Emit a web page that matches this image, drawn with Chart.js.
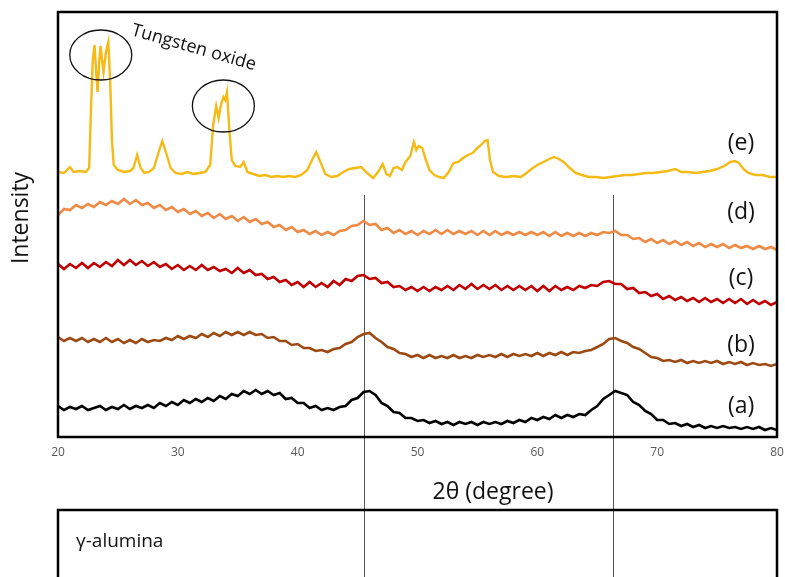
<!DOCTYPE html>
<html><head><meta charset="utf-8">
<script src="https://cdn.jsdelivr.net/npm/chart.js@4.4.0/dist/chart.umd.min.js"></script>
<style>html,body{margin:0;padding:0;background:#fff}#wrap{position:relative;width:785px;height:577px}</style>
</head><body><div id="wrap"><canvas id="c" width="785" height="577"></canvas></div>
<script>
// 2θ grid (degrees) shared by samples (a)-(d)
const theta = [];
for (let i = 0; i <= 120; i++) theta.push(20 + i * 0.5);
const xTicks = [20, 30, 40, 50, 60, 70, 80];
const labels = ['(a)', '(b)', '(c)', '(d)', '(e)'];
const labelLevels = [31, 92, 159, 225, 294];
const aluminaPeaks = [45.55, 66.35];

// (a) γ-alumina
const seriesA = [31,27,30,28,31,27,29,31,27,30,28,32,28,31,29,32,29,34,31,35,32,37,34,38,35,39,36,41,38,43,41,46,43,47,43,46,42,44,38,39,34,34,29,31,27,29,27,30,31,37,39,45,46,42,34,31,25,24,19,19,16,17,14,16,13,15,12,15,13,15,12,15,13,15,13,16,14,17,15,19,17,20,18,22,19,22,20,23,22,27,31,38,42,46,44,42,35,32,26,23,17,17,13,14,11,13,10,12,9,11,9,11,9,10,8,10,8,10,7,9,7];
// (b)
const seriesB = [100,96,99,96,99,95,98,95,99,95,98,94,97,94,98,95,97,96,99,97,101,98,101,99,103,100,104,101,105,102,105,102,105,102,103,99,100,96,96,92,93,89,89,86,87,85,88,89,93,95,100,103,104,99,95,90,88,84,83,80,82,79,82,79,81,79,82,79,81,79,82,80,82,80,83,80,83,81,83,81,84,81,84,82,85,82,85,84,86,87,90,93,98,99,96,94,90,88,84,80,79,76,77,75,77,74,76,74,76,74,76,73,75,73,75,72,74,72,73,71,73];
// (c)
const seriesC = [173,168,173,169,174,169,174,170,175,171,177,172,177,172,176,171,175,170,173,168,172,167,171,167,172,167,170,166,168,164,169,164,167,162,163,158,160,155,157,152,155,150,155,150,154,150,156,152,158,156,161,162,158,159,154,155,150,151,147,150,146,150,146,150,147,151,147,152,148,153,148,152,148,152,147,151,147,151,147,151,146,151,146,151,147,150,147,151,149,152,151,155,156,153,153,148,149,144,145,141,143,138,141,137,140,136,139,135,139,135,138,134,138,134,138,133,137,133,136,132,135];
// (d)
const seriesD = [222,228,227,232,229,233,230,235,232,236,233,238,233,237,232,234,229,232,227,230,225,228,223,226,221,224,219,223,218,221,216,220,215,218,213,215,210,212,207,210,205,207,203,206,202,205,202,206,207,211,212,216,212,213,207,209,204,207,203,206,202,206,203,207,203,207,203,206,203,206,202,206,202,206,202,205,202,205,202,205,202,205,201,205,201,204,201,204,201,204,202,205,204,206,202,202,198,199,195,198,194,197,193,196,192,195,191,194,190,193,190,193,189,192,189,191,188,191,188,190,187];
// (e) tungsten oxide loaded sample
const thetaE = [20.0,20.5,21.0,21.3,21.8,22.3,22.6,22.75,22.9,23.05,23.2,23.3,23.45,23.55,23.7,23.8,24.0,24.2,24.35,24.5,24.65,25.0,25.5,26.0,26.3,26.6,26.9,27.2,27.6,28.0,28.4,28.7,29.0,29.4,29.8,30.3,30.8,31.3,31.8,32.3,32.7,32.95,33.2,33.4,33.6,33.8,33.95,34.1,34.3,34.5,34.8,35.2,35.5,35.8,36.3,36.8,37.3,37.8,38.3,38.8,39.3,39.8,40.3,40.8,41.2,41.55,41.9,42.3,42.8,43.3,43.8,44.3,44.8,45.3,45.8,46.3,46.7,47.1,47.4,47.7,48.0,48.3,48.7,49.0,49.4,49.7,49.9,50.1,50.4,50.7,51.0,51.4,51.8,52.2,52.6,53.0,53.4,53.8,54.2,54.6,55.0,55.3,55.6,55.85,56.05,56.3,56.8,57.4,58.0,58.6,59.0,59.5,60.0,60.5,61.0,61.4,61.8,62.2,62.7,63.2,63.7,64.3,64.9,65.5,66.1,66.7,67.3,67.9,68.5,69.1,69.7,70.3,70.9,71.5,72.0,72.6,73.2,73.8,74.4,75.0,75.6,76.1,76.5,76.8,77.2,77.6,78.2,78.8,79.4,80.0];
const seriesE = [265,264,270,265,266,265,269,327,377,392,362,345,377,391,375,365,385,395,357,297,272,267,265,266,269,282,269,264,265,269,285,296,285,269,264,263,265,263,264,265,272,312,331,319,332,340,337,345,307,277,271,270,275,265,263,261,262,260,261,260,261,260,262,267,277,285,275,263,260,261,265,268,269,270,264,259,265,273,263,261,269,270,267,275,281,295,287,291,289,277,267,262,260,259,265,274,275,279,282,284,289,292,296,297,277,265,261,260,261,260,263,268,272,275,278,280,278,275,269,264,262,260,260,259,260,261,262,262,263,264,264,265,266,268,265,265,264,265,266,268,271,275,276,274,268,264,262,262,260,260];

const colors = ['#000000', '#9C4A12', '#C00000', '#EE8A44', '#F5BA14'];
const seriesList = [seriesA, seriesB, seriesC, seriesD];

function pts(xs, ys) { return xs.map((x, i) => ({ x: x, y: ys[i] })); }

const datasets = seriesList.map((s, i) => ({
  label: labels[i], data: pts(theta, s), borderColor: colors[i],
  borderWidth: 2.6, pointRadius: 0, tension: 0, fill: false
}));
datasets.push({ label: labels[4], data: pts(thetaE, seriesE), borderColor: colors[4],
  borderWidth: 2.4, pointRadius: 0, tension: 0, fill: false });

const FONT = '"Open Sans", "Noto Sans", sans-serif';

const decor = {
  id: 'decor',
  beforeDatasetsDraw(chart) {
    const ctx = chart.ctx, xs = chart.scales.x;
    ctx.save();
    ctx.strokeStyle = '#555';
    ctx.lineWidth = 1;
    aluminaPeaks.forEach(p => {
      const px = Math.round(xs.getPixelForValue(p)) + 0.5;
      ctx.beginPath(); ctx.moveTo(px, 195); ctx.lineTo(px, 577); ctx.stroke();
    });
    ctx.restore();
  },
  afterDraw(chart) {
    const ctx = chart.ctx, xs = chart.scales.x, ys = chart.scales.y, a = chart.chartArea;
    ctx.save();
    // plot frame
    ctx.strokeStyle = '#000'; ctx.lineWidth = 2.5;
    ctx.strokeRect(a.left, a.top, a.right - a.left, a.bottom - a.top);
    // lower reference box
    ctx.strokeRect(a.left, 510, a.right - a.left, 120);
    // x tick labels
    ctx.fillStyle = '#595959'; ctx.font = '12px ' + FONT;
    ctx.textAlign = 'center'; ctx.textBaseline = 'middle';
    xTicks.forEach(t => ctx.fillText(String(t), xs.getPixelForValue(t), 453));
    // sample labels
    ctx.fillStyle = '#111'; ctx.font = '23px ' + FONT;
    labels.forEach((l, i) => ctx.fillText(l, xs.getPixelForValue(77.0), ys.getPixelForValue(labelLevels[i])));
    // axis titles
    ctx.font = '23px ' + FONT;
    ctx.fillText('2θ (degree)', 493, 492);
    ctx.save(); ctx.translate(21, 218); ctx.rotate(-Math.PI / 2);
    ctx.font = '23px ' + FONT; ctx.fillText('Intensity', 0, 0); ctx.restore();
    ctx.font = '19px ' + FONT; ctx.textAlign = 'left';
    ctx.fillText('γ-alumina', 76, 542);
    // tungsten oxide annotation
    ctx.lineWidth = 1.3; ctx.strokeStyle = '#111';
    [[23.57, 382, 31, 25], [33.8, 331, 31, 26]].forEach(e => {
      ctx.beginPath();
      ctx.ellipse(xs.getPixelForValue(e[0]), ys.getPixelForValue(e[1]), e[2], e[3], 0, 0, Math.PI * 2);
      ctx.stroke();
    });
    ctx.save(); ctx.translate(132, 30); ctx.rotate(16 * Math.PI / 180);
    ctx.font = '18px ' + FONT; ctx.textAlign = 'left'; ctx.textBaseline = 'middle';
    ctx.fillText('Tungsten oxide', 0, 0); ctx.restore();
    ctx.restore();
  }
};

new Chart(document.getElementById('c'), {
  type: 'line',
  data: { datasets: datasets },
  options: {
    responsive: false, animation: false, maintainAspectRatio: false,
    layout: { padding: { left: 58, right: 8, top: 12, bottom: 114 } },
    plugins: { legend: { display: false }, tooltip: { enabled: false } },
    scales: {
      x: {
        type: 'linear', min: 20, max: 80,
        grid: { display: false, drawTicks: false }, border: { display: false },
        afterFit(s) { s.height = 26; },
        afterBuildTicks(s) { s.ticks = xTicks.map(v => ({ value: v })); },
        ticks: { display: false }
      },
      y: { display: false, min: 0, max: 425 }
    }
  },
  plugins: [decor]
});
</script></body></html>
